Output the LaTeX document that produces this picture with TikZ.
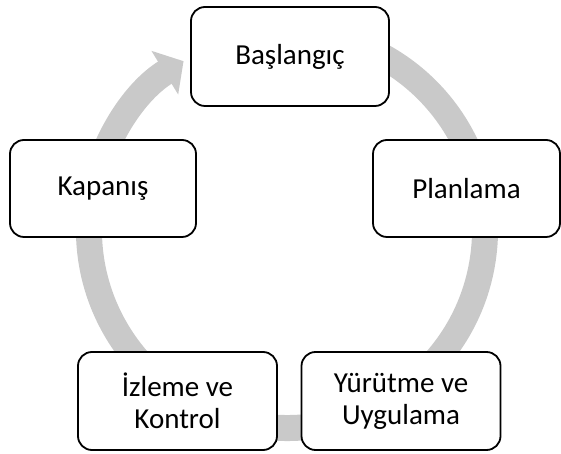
\documentclass[tikz,border=0pt]{standalone}
\usepackage{fontspec}
\setmainfont{Carlito}
\usetikzlibrary{arrows.meta}

\definecolor{ringgray}{RGB}{201,201,201}

\tikzset{
  phase/.style={draw=black, line width=1.8pt, fill=white, rounded corners=14pt,
    align=center, inner sep=0pt, font=\fontsize{29}{32}\selectfont},
  ring/.style={draw=ringgray, line width=26pt,
    -{Triangle[length=22pt, width=50pt, fill=ringgray]}}
}

\begin{document}
\begin{tikzpicture}[x=1pt, y=1pt]
  \useasboundingbox (0,0) rectangle (561,454);

  % cycle ring
  \coordinate (hub) at (287,224);
  \draw[ring] (hub) ++(80:198) arc[start angle=80, end angle=-238.5, radius=198];

  % phases
  \node[phase, minimum width=198pt, minimum height=99pt] (basla) at (290,397.5) {Başlangıç};
  \node[phase, minimum width=187pt, minimum height=97pt] (plan) at (466.5,265.5) {Planlama};
  \node[phase, minimum width=199pt, minimum height=98pt] (yurut) at (401,53) {Yürütme ve\\Uygulama};
  \node[phase, minimum width=199pt, minimum height=98pt] (izle) at (177.5,53) {İzleme ve\\Kontrol};
  \node[phase, minimum width=186pt, minimum height=97pt] (kapa) at (103,265.5) {Kapanış};
\end{tikzpicture}
\end{document}
